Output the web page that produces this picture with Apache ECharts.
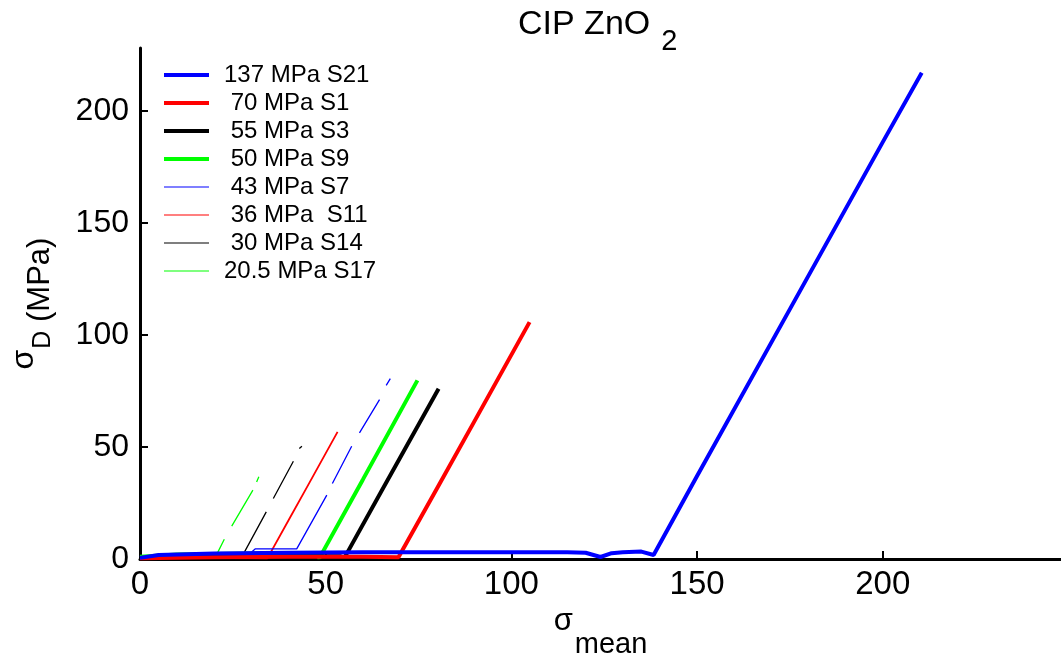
<!DOCTYPE html>
<html>
<head>
<meta charset="utf-8">
<script src="https://cdn.jsdelivr.net/npm/echarts@6/dist/echarts.min.js"></script>
<style>html,body{margin:0;padding:0;background:#fff;}#c{width:1061px;height:656px;}</style>
</head>
<body>
<div id="c"></div>
<script>
// ---- data (sigma_mean, sigma_D), null = break in the trace ----
const names = ['137 MPa S21', ' 70 MPa S1', ' 55 MPa S3', ' 50 MPa S9', ' 43 MPa S7', ' 36 MPa  S11', ' 30 MPa S14', '20.5 MPa S17'];
const colors = ['#0000ff', '#ff0000', '#000000', '#00ff00', '#0000ff', '#ff0000', '#000000', '#00ff00'];

const s21x = [0, 5, 20, 40, 60, 80, 100, 115, 120, 124, 127, 130, 135, 138.3, 150, 175, 200, 210.5];
const s21y = [0.5, 1.8, 2.5, 2.8, 3, 3, 3, 3, 2.8, 0.9, 2.6, 3, 3.3, 1.8, 37, 111.5, 186, 217];

const s1x = [0, 20, 40, 60, 69.6, 80, 90, 104.9];
const s1y = [0.3, 0.8, 1, 1, 0.8, 31.6, 61.3, 105.7];

const s3x = [0, 20, 40, 54, 55, 65, 80.4];
const s3y = [0.5, 1, 1.2, 1.2, 0.4, 30.2, 76];

const s9x = [0, 10, 30, 47.5, 48.3, 60, 74.7];
const s9y = [1, 2, 2.5, 2.5, 0.4, 35.4, 79.7];

const s7x = [0, 15, 30, 31, 42.2, 50.3, 51, 51.8, 57, 58, 59.1, 64.5, 65.4, 66.3, 67.4];
const s7y = [1, 2, 3, 4.5, 4.5, 28.5, null, 33.7, 50.3, null, 56.3, 71.1, null, 77.5, 80.5];

const s11x = [0, 15, 34.3, 40, 45, 53.2];
const s11y = [0.3, 0.5, 0.3, 17.3, 32.2, 56.7];

const s14x = [0, 15, 27.2, 34, 35, 35.9, 41.3, 42.1, 42.9, 43.6];
const s14y = [0.5, 1, 0.3, 21, null, 27, 43.6, null, 49.3, 50.3];

const s17x = [0, 10, 20.8, 22.7, 23.7, 24.7, 30.4, 30.9, 31.4, 32];
const s17y = [1, 1.8, 2.5, 8.8, null, 14.7, 30.7, null, 34.4, 36.7];

const xs = [s21x, s1x, s3x, s9x, s7x, s11x, s14x, s17x];
const ys = [s21y, s1y, s3y, s9y, s7y, s11y, s14y, s17y];
const widths = [4, 4, 4, 4, 1.3, 1.8, 1.3, 1.3];

const xTicks = [0, 50, 100, 150, 200];
const yTicks = [0, 50, 100, 150, 200];

const font = 'Liberation Sans, Arial, Helvetica, sans-serif';

const series = names.map((n, i) => ({
  name: n,
  type: 'line',
  symbol: 'none',
  connectNulls: false,
  animation: false,
  z: 10 - i,
  lineStyle: { color: colors[i], width: widths[i] },
  itemStyle: { color: colors[i] },
  data: xs[i].map((x, j) => ys[i][j] === null ? [x, '-'] : [x, ys[i][j]])
}));

const chart = echarts.init(document.getElementById('c'), null, { renderer: 'canvas' });
chart.setOption({
  backgroundColor: '#ffffff',
  animation: false,
  textStyle: { fontFamily: font },
  title: {
    text: 'CIP ZnO{sub|2}',
    left: 518, top: 9, padding: 0,
    textStyle: {
      fontFamily: font, fontSize: 34, fontWeight: 'normal', color: '#000',
      lineHeight: 32, verticalAlign: 'top',
      rich: {
        sub: { fontFamily: font, fontSize: 29, lineHeight: 29, color: '#000', padding: [18, 0, 0, 11], verticalAlign: 'top' }
      }
    }
  },
  legend: {
    orient: 'vertical',
    left: 162, top: 61, padding: 0,
    itemWidth: 45, itemHeight: 14, itemGap: 0,
    textStyle: { fontFamily: font, fontSize: 24, color: '#000', lineHeight: 28, padding: [0, 0, 0, 10] },
    data: names.map((n, i) => ({
      name: n,
      lineStyle: { width: widths[i] > 2 ? 4 : 1.2, color: colors[i] },
      itemStyle: { color: 'rgba(0,0,0,0)', borderWidth: 0 }
    }))
  },
  grid: { left: 140, right: 0, top: 48, bottom: 97, containLabel: false, outerBoundsMode: 'none' },
  xAxis: {
    type: 'value', min: 0, max: 248, interval: 50,
    name: '{s|σ}{m|mean}', nameLocation: 'middle', nameGap: 46,
    nameTextStyle: {
      fontFamily: font, color: '#000',
      rich: {
        s: { fontFamily: font, fontSize: 31, lineHeight: 34, verticalAlign: 'top', color: '#000' },
        m: { fontFamily: font, fontSize: 29, lineHeight: 54, verticalAlign: 'bottom', color: '#000', padding: [0, 0, 0, 2] }
      }
    },
    splitLine: { show: false },
    axisLine: { show: true, onZero: false, lineStyle: { color: '#000', width: 3 } },
    axisTick: { show: true, inside: true, length: 8, lineStyle: { color: '#000', width: 2 }, customValues: xTicks },
    axisLabel: { fontFamily: font, fontSize: 33, color: '#000', margin: 9, customValues: xTicks }
  },
  yAxis: {
    type: 'value', min: 0, max: 228, interval: 50,
    name: '{s|σ}{d|D}{r| (MPa)}', nameLocation: 'middle', nameGap: 84, nameRotate: 90,
    nameTextStyle: {
      fontFamily: font, color: '#000',
      rich: {
        s: { fontFamily: font, fontSize: 32, lineHeight: 32, verticalAlign: 'top', color: '#000' },
        d: { fontFamily: font, fontSize: 25, lineHeight: 30, verticalAlign: 'bottom', color: '#000', padding: [0, 0, 0, 1] },
        r: { fontFamily: font, fontSize: 31, lineHeight: 48, verticalAlign: 'bottom', color: '#000' }
      }
    },
    splitLine: { show: false },
    axisLine: { show: true, onZero: false, lineStyle: { color: '#000', width: 3 } },
    axisTick: { show: true, inside: true, length: 8, lineStyle: { color: '#000', width: 2 }, customValues: yTicks },
    axisLabel: { fontFamily: font, fontSize: 32, color: '#000', margin: 11, customValues: yTicks }
  },
  series: series
});
</script>
</body>
</html>
